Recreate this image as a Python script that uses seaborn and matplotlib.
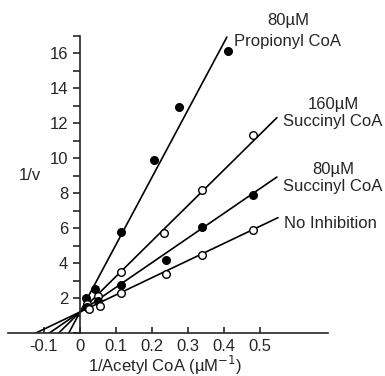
import numpy as np
import pandas as pd
import seaborn as sns
import matplotlib.pyplot as plt
from matplotlib.ticker import MultipleLocator

# Datos (Lineweaver-Burk)
series = ['Propionyl', 'Succinyl160', 'Succinyl80', 'None']
filled = [True, False, True, False]

x_prop = [0.017, 0.042, 0.114, 0.205, 0.275, 0.41]
y_prop = [2.0, 2.5, 5.8, 9.9, 12.9, 16.1]
x_s160 = [0.02, 0.05, 0.114, 0.234, 0.338, 0.48]
y_s160 = [1.65, 2.1, 3.5, 5.7, 8.2, 11.3]
x_s80 = [0.02, 0.05, 0.114, 0.238, 0.34, 0.48]
y_s80 = [1.5, 1.85, 2.75, 4.2, 6.06, 7.9]
x_none = [0.025, 0.055, 0.114, 0.24, 0.34, 0.48]
y_none = [1.4, 1.55, 2.3, 3.4, 4.45, 5.9]

# rectas ajustadas: pendiente, ordenada comun, x final
slopes = [38.5, 20.3, 14.1, 9.8]
intercept = 1.2
x_end = [0.408, 0.547, 0.547, 0.55]

labels = ['80\u00b5M\nPropionyl CoA', '160\u00b5M\nSuccinyl CoA',
          '80\u00b5M\nSuccinyl CoA', 'No Inhibition']

xs = [x_prop, x_s160, x_s80, x_none]
ys = [y_prop, y_s160, y_s80, y_none]
df = pd.concat([pd.DataFrame({'x': a, 'y': b, 'serie': s})
                for a, b, s in zip(xs, ys, series)])

sns.set_style('ticks')
plt.rcParams['font.family'] = ['Liberation Sans', 'DejaVu Sans']

fig = plt.figure(figsize=(3.85, 3.76), dpi=100)
ax = fig.add_axes([8/385, 1 - 333/376, 320/385, 297.5/376])

for s, m, xe in zip(series, slopes, x_end):
    x0 = -intercept / m
    sns.lineplot(x=[x0, xe], y=[0, intercept + m * xe], ax=ax,
                 color='black', lw=1.2)

for s, f in zip(series, filled):
    d = df[df['serie'] == s]
    sns.scatterplot(data=d, x='x', y='y', ax=ax, s=30, zorder=3,
                    color='black' if f else 'white', edgecolor='black',
                    linewidth=1.0)

ax.set_xlim(-0.2, 0.689)
ax.set_ylim(0, 17)
ax.spines['top'].set_visible(False)
ax.spines['right'].set_visible(False)
ax.spines['left'].set_position(('data', 0))
ax.spines['left'].set_linewidth(1.2)
ax.spines['bottom'].set_linewidth(1.2)

ax.set_yticks(range(2, 17, 2))
ax.yaxis.set_minor_locator(MultipleLocator(1))
ax.tick_params(axis='y', which='both', direction='out', length=5,
               width=1.2, labelsize=12)
ax.set_xticks([-0.1, 0, 0.1, 0.2, 0.3, 0.4, 0.5])
ax.set_xticklabels(['-0.1', '0', '0.1', '0.2', '0.3', '0.4', '0.5'])
ax.tick_params(axis='x', direction='in', length=4, width=1.2,
               labelsize=12, pad=4)
ax.set_xlabel('')
ax.set_ylabel('')

fig.text(30/385, 1 - 176/376, '1/v', fontsize=12, ha='center', va='center')
fig.text(165/385, 1 - 365/376, '1/Acetyl CoA (\u00b5M$^{-1}$)',
         fontsize=12, ha='center', va='center')

pos = [(288, 31), (333, 113), (333, 178), (330, 223)]
spacing = [1.45, 1.1, 1.1, 1.1]
for lab, (px, py), ls in zip(labels, pos, spacing):
    fig.text(px/385, 1 - py/376, lab, fontsize=12, ha='center',
             va='center', linespacing=ls)

fig.savefig('out.png', dpi=100)
